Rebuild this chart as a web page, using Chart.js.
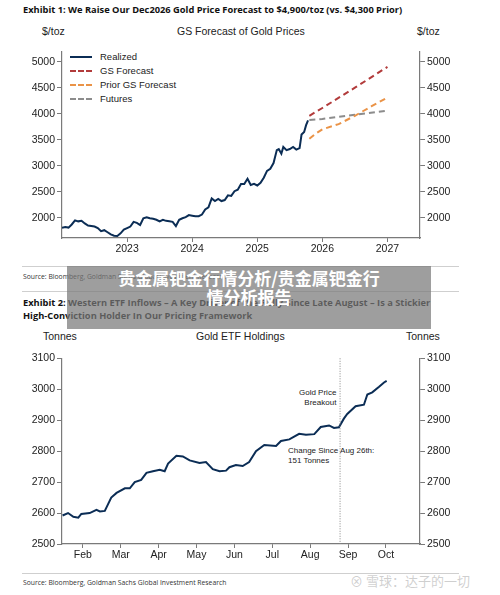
<!DOCTYPE html>
<html><head><meta charset="utf-8">
<script src="https://cdn.jsdelivr.net/npm/chart.js@4"></script>
<style>
body{margin:0;width:500px;height:595px;background:#fff;position:relative;overflow:hidden;font-family:"Liberation Sans",Arial,sans-serif;}
.t{position:absolute;white-space:nowrap;}
.ex{font-family:"Open Sans","DejaVu Sans",sans-serif;font-weight:bold;font-size:9.3px;color:#111;left:23px;}
.src{font-family:"Open Sans",sans-serif;font-size:6.8px;color:#333;left:23px;}
.hr{position:absolute;left:22px;width:437px;height:1px;background:#cfcfcf;}
.lab{font-size:10.5px;color:#222;}
canvas{position:absolute;left:0;}
</style></head><body>
<div class="t ex" style="top:3px">Exhibit 1: We Raise Our Dec2026 Gold Price Forecast to $4,900/toz (vs. $4,300 Prior)</div>
<div class="t lab" style="left:42px;top:25px">$/toz</div>
<div class="t lab" style="left:177px;top:25px">GS Forecast of Gold Prices</div>
<div class="t lab" style="left:417px;top:25px">$/toz</div>
<div id="leg1" class="t" style="left:70px;top:50px;font-size:9.5px;color:#222;line-height:14px"></div>
<canvas id="c1" width="500" height="215" style="top:43px;width:500px;height:215px"></canvas>
<div class="hr" style="top:266px"></div>
<div class="t src" style="top:272px">Source: Bloomberg, Goldman Sachs Global Investment Research</div>
<div class="hr" style="top:291px"></div>
<div class="t ex" style="top:296px">Exhibit 2: Western ETF Inflows – A Key Driver of the Rally Since Late August – Is a Stickier</div>
<div class="t ex" style="top:309px">High-Conviction Holder In Our Pricing Framework</div>
<div class="t lab" style="left:43px;top:330px">Tonnes</div>
<div class="t lab" style="left:196px;top:330px">Gold ETF Holdings</div>
<div class="t lab" style="left:406px;top:330px">Tonnes</div>
<div class="t" style="left:299px;top:388px;font-size:8px;color:#222;text-align:right;line-height:10px">Gold Price<br>&nbsp;&nbsp;Breakout</div>
<div class="t" style="left:288px;top:446px;font-size:8px;color:#222;line-height:10px">Change Since Aug 26th:<br>151 Tonnes</div>
<canvas id="c2" width="500" height="214" style="top:350px;width:500px;height:214px"></canvas>
<div class="hr" style="top:573px"></div>
<div class="t src" style="top:578px">Source: Bloomberg, Goldman Sachs Global Investment Research</div>
<div class="t" style="left:350px;top:571px;font-size:13px;color:rgba(160,160,160,0.5);font-family:'Noto Sans CJK SC'">⊗ 雪球：达子的一切</div>
<div style="position:absolute;left:67px;top:266px;width:364px;height:63px;background:rgba(120,120,120,0.72)"></div>
<div class="t" style="left:67px;top:268px;width:364px;text-align:center;white-space:normal;font-family:'Noto Sans CJK SC';font-weight:bold;font-size:17px;line-height:19px;color:#fff">贵金属钯金行情分析/贵金属钯金行<br>情分析报告</div>
<script>
// Chart 1 data (x = fractional year)
const realizedX=[2022.0,2022.05,2022.1,2022.15,2022.2,2022.25,2022.3,2022.35,2022.4,2022.5,2022.55,2022.6,2022.65,2022.7,2022.75,2022.8,2022.85,2022.9,2022.95,2023.0,2023.05,2023.1,2023.15,2023.2,2023.25,2023.3,2023.35,2023.4,2023.45,2023.5,2023.55,2023.6,2023.65,2023.7,2023.75,2023.8,2023.85,2023.9,2023.95,2024.0,2024.05,2024.1,2024.15,2024.2,2024.25,2024.3,2024.35,2024.4,2024.45,2024.5,2024.55,2024.6,2024.65,2024.7,2024.75,2024.8,2024.85,2024.9,2024.95,2025.0,2025.05,2025.1,2025.15,2025.2,2025.25,2025.3,2025.33,2025.37,2025.4,2025.45,2025.5,2025.55,2025.6,2025.65,2025.68,2025.72,2025.75,2025.78];
const realizedY=[1805,1820,1810,1870,1950,1930,1940,1890,1850,1830,1800,1740,1760,1720,1680,1655,1650,1700,1770,1800,1830,1920,1900,1860,1990,2010,1990,1980,1960,1930,1960,1940,1930,1920,1840,1960,1990,2010,2050,2040,2030,2030,2060,2160,2200,2370,2320,2360,2320,2340,2430,2420,2510,2540,2650,2650,2750,2630,2650,2620,2670,2770,2900,2940,3050,3300,3320,3230,3360,3300,3320,3360,3310,3340,3600,3650,3780,3870];
const gsX=[2025.8,2026.0,2026.5,2027.0];
const gsY=[3960,4110,4500,4900];
const priorX=[2025.8,2025.9,2026.0,2026.25,2026.5,2026.75,2027.0];
const priorY=[3520,3620,3700,3800,3960,4140,4310];
const futX=[2025.8,2026.0,2026.5,2027.0];
const futY=[3880,3900,3980,4060];
const yearTicks=[2023,2024,2025,2026,2027];
const priceTicks=[2000,2500,3000,3500,4000,4500,5000];
// Chart 2 data (x = month number)
const etfX=[1.465,1.61,1.75,1.88,1.96,2.18,2.36,2.45,2.58,2.75,2.89,3.11,3.24,3.37,3.54,3.68,3.85,4.03,4.16,4.25,4.47,4.64,4.82,5.08,5.25,5.43,5.61,5.78,5.87,6.04,6.22,6.39,6.57,6.79,7.10,7.23,7.45,7.71,7.89,8.11,8.28,8.50,8.63,8.76,8.89,8.98,9.20,9.42,9.51,9.64,9.82,9.95,10.02];
const etfY=[2592,2600,2588,2585,2597,2600,2610,2605,2607,2650,2665,2680,2680,2700,2707,2730,2735,2740,2735,2760,2785,2783,2770,2762,2765,2742,2735,2737,2748,2755,2752,2765,2800,2820,2817,2833,2838,2856,2853,2855,2878,2883,2875,2877,2905,2920,2945,2950,2983,2990,3008,3022,3027];
const monthTicks=[2,3,4,5,6,7,8,9,10];
const monthLabels=['Feb','Mar','Apr','May','Jun','Jul','Aug','Sep','Oct'];
const etfTicks=[2500,2600,2700,2800,2900,3000,3100];
const breakoutX=8.79;

const pts=(xs,ys)=>xs.map((x,i)=>({x,y:ys[i]}));
const ax='#7a7a7a', font={family:'Liberation Sans, Arial',size:10.5};
function yAxis(pos,ticks,min,max,w){return {type:'linear',position:pos,min,max,
  afterBuildTicks:a=>{a.ticks=ticks.map(v=>({value:v}));},
  afterFit:a=>{a.width=w;},
  grid:{display:true,drawOnChartArea:false,color:ax,tickLength:5,tickColor:ax},
  border:{color:ax,width:1.2},ticks:{color:'#222',font,padding:2,callback:v=>String(v)}};}
function xAxis(ticks,min,max,cb){return {type:'linear',min,max,
  afterBuildTicks:a=>{a.ticks=ticks.map(v=>({value:v}));},
  afterFit:a=>{a.height=20;},
  grid:{display:true,drawOnChartArea:false,color:ax,tickLength:4,tickColor:ax},
  border:{color:ax,width:1.2},ticks:{color:'#222',font,padding:1,maxRotation:0,autoSkip:false,callback:cb}};}
const ds=(data,color,dash,w)=>({data,borderColor:color,borderWidth:w||2,borderDash:dash||[],pointRadius:0,tension:0,fill:false,xAxisID:'x',yAxisID:'y'});

const s1=[ds(pts(realizedX,realizedY),'#0b2d55',null,2),ds(pts(gsX,gsY),'#b23b3b',[6,4]),ds(pts(priorX,priorY),'#ea9347',[6,4]),ds(pts(futX,futY),'#8c8c8c',[6,4])];
new Chart('c1',{type:'line',data:{datasets:s1},options:{responsive:false,animation:false,
 plugins:{legend:{display:false},tooltip:{enabled:false}},
 scales:{x:xAxis(yearTicks,2022.0,2027.5,v=>String(v)),y:yAxis('left',priceTicks,1610,5200,62),
 y2:yAxis('right',priceTicks,1610,5200,80)}}});
const legNames=['Realized','GS Forecast','Prior GS Forecast','Futures'],legCols=['#0b2d55','#b23b3b','#ea9347','#8c8c8c'];
document.getElementById('leg1').innerHTML=legNames.map((n,i)=>`<div><span style="display:inline-block;width:22px;height:0;border-top:2px ${i?'dashed':'solid'} ${legCols[i]};vertical-align:middle;margin-right:8px"></span>${n}</div>`).join('');

const vline={id:'v',afterDatasetsDraw(c){const x=c.scales.x.getPixelForValue(breakoutX),a=c.chartArea,g=c.ctx;g.save();g.strokeStyle='#888';g.lineWidth=1;g.setLineDash([1,1.5]);g.beginPath();g.moveTo(x,a.top);g.lineTo(x,a.bottom);g.stroke();g.restore();}};
new Chart('c2',{type:'line',data:{datasets:[ds(pts(etfX,etfY),'#0b2d55',null,2)]},plugins:[vline],options:{responsive:false,animation:false,
 plugins:{legend:{display:false},tooltip:{enabled:false}},
 scales:{x:xAxis(monthTicks,1.45,10.9,v=>monthLabels[monthTicks.indexOf(v)]),y:yAxis('left',etfTicks,2500,3100,62),y2:yAxis('right',etfTicks,2500,3100,80)}}});
</script></body></html>
